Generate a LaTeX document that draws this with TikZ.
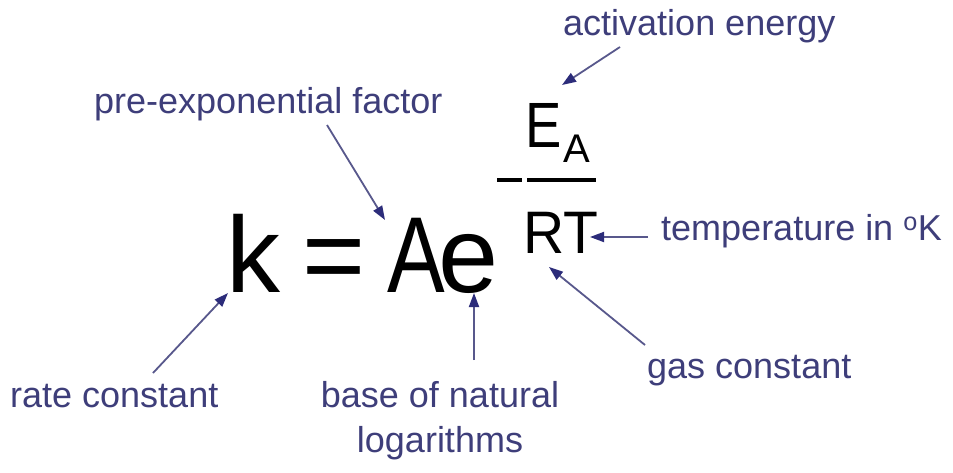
\documentclass[tikz,border=0pt]{standalone}
\usepackage{fontspec}
\setmainfont{Liberation Sans}
\usetikzlibrary{arrows.meta}
\definecolor{lbl}{RGB}{62,62,122}
\definecolor{arr}{RGB}{88,88,140}
\definecolor{ahead}{RGB}{44,44,122}
\begin{document}
\begin{tikzpicture}[x=1pt,y=-1pt,
  lab/.style={anchor=base west,inner sep=0pt,text=lbl,font=\fontsize{36}{45}\selectfont},
  glyph/.style={anchor=base west,inner sep=0pt,text=black},
  ptr/.style={draw=arr,line width=1.8pt,-{Triangle[length=14pt,width=10pt,color=ahead]}},
  barline/.style={draw=black,line width=4.5pt}]
\useasboundingbox[fill=white] (0,0) rectangle (953,472);

% equation
\node[glyph,font=\fontsize{108}{110}\selectfont] (k) at (226,292) {k};
\node[glyph,font=\fontsize{108}{110}\selectfont] (eqs) at (302,292) {=};
\node[glyph,font=\fontsize{108}{110}\selectfont] (A) at (387,292) {\scalebox{0.8}[1]{A}};
\node[glyph,font=\fontsize{108}{110}\selectfont] (e) at (438,292) {e};
\node[glyph,font=\fontsize{64}{66}\selectfont] (E) at (525,147) {\scalebox{0.85}[1]{E}};
\node[glyph,font=\fontsize{40}{42}\selectfont] (Asub) at (563,162) {A};
\node[glyph,font=\fontsize{60}{62}\selectfont] (RT) at (523,253) {\scalebox{0.95}[1]{RT}};
\coordinate (m1) at (497,180); \coordinate (m2) at (522,180);
\coordinate (b1) at (527,180); \coordinate (b2) at (596,180);
\draw[barline] (m1) -- (m2);
\draw[barline] (b1) -- (b2);

% labels
\node[lab] (act) at (563,35) {activation energy};
\node[lab] (pre) at (94,113) {pre-exponential factor};
\node[lab] (rate) at (10,407) {rate constant};
\node[lab,anchor=north,align=center] (base) at (440,381) {base of natural\\logarithms};
\node[lab] (gas) at (647,378) {gas constant};
\node[lab] (temp) at (661,240) {temperature in \textsuperscript{o}K};

% arrow ends
\coordinate (actT) at (620,47);  \coordinate (actH) at (562,85);
\coordinate (preT) at (327,125); \coordinate (preH) at (385,220);
\coordinate (rateT) at (153,373); \coordinate (rateH) at (228,293);
\coordinate (baseT) at (474,360); \coordinate (baseH) at (474,293);
\coordinate (tempT) at (648,237); \coordinate (tempH) at (590,237);
\coordinate (gasT) at (645,345); \coordinate (gasH) at (549,267);

\draw[ptr] (actT) -- (actH);
\draw[ptr] (preT) -- (preH);
\draw[ptr] (rateT) -- (rateH);
\draw[ptr] (baseT) -- (baseH);
\draw[ptr] (tempT) -- (tempH);
\draw[ptr] (gasT) -- (gasH);
\end{tikzpicture}
\end{document}
